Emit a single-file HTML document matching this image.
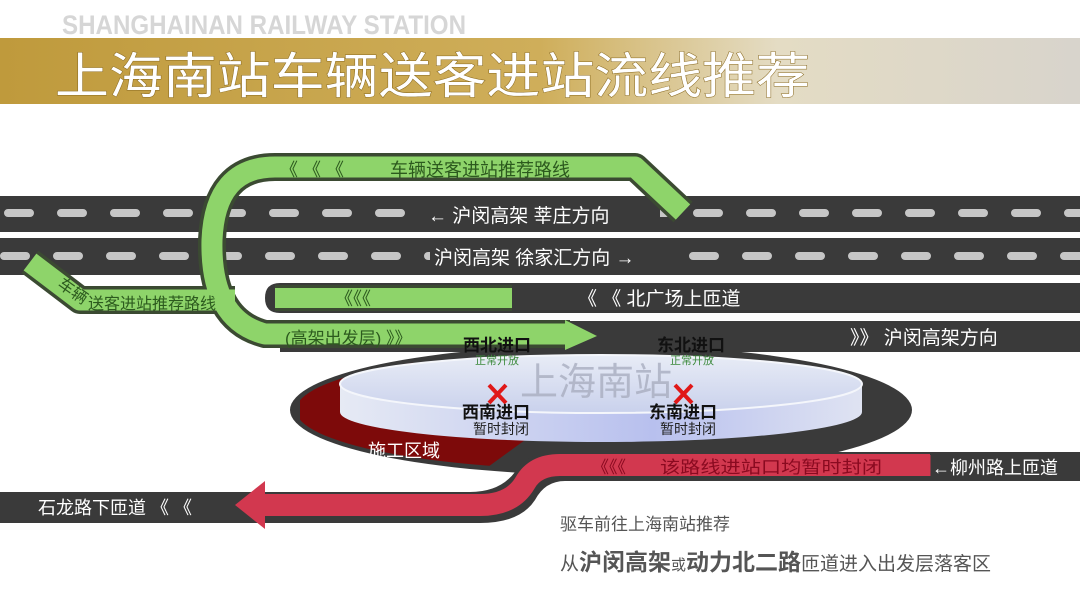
<!DOCTYPE html>
<html><head><meta charset="utf-8"><style>
html,body{margin:0;padding:0;background:#fff;width:1080px;height:608px;overflow:hidden}
svg{display:block;font-family:"Liberation Sans","Noto Sans CJK SC",sans-serif}
</style></head><body>
<svg width="1080" height="608" viewBox="0 0 1080 608" xmlns="http://www.w3.org/2000/svg">
<defs>
<linearGradient id="ban" x1="0" x2="1" y1="0" y2="0">
<stop offset="0" stop-color="#bf9a3c"/><stop offset="0.5" stop-color="#cfae5a"/><stop offset="0.72" stop-color="#e4dcc4"/><stop offset="1" stop-color="#d8d4cc"/></linearGradient>
<linearGradient id="disc" x1="0" x2="1"><stop offset="0" stop-color="#e6eaf4"/><stop offset="0.6" stop-color="#b8c0ee"/><stop offset="1" stop-color="#dfe3f2"/></linearGradient>
<linearGradient id="top" x1="0" x2="0" y1="0" y2="1"><stop offset="0" stop-color="#e8ecf6"/><stop offset="1" stop-color="#c9d1ec"/></linearGradient>
<clipPath id="ring"><ellipse cx="601" cy="410" rx="305" ry="60"/></clipPath>
</defs>
<!-- header -->
<text x="62" y="34" font-size="27" font-weight="bold" fill="#d6d6d6" textLength="404" lengthAdjust="spacingAndGlyphs">SHANGHAINAN RAILWAY STATION</text>
<rect x="0" y="38" width="1080" height="66" fill="url(#ban)"/>
<text x="55" y="93" font-size="49" fill="#fff" textLength="755" lengthAdjust="spacingAndGlyphs" style="paint-order:stroke" stroke="#8a6a20" stroke-width="1">上海南站车辆送客进站流线推荐</text>

<!-- roads -->
<rect x="0" y="196" width="1080" height="36" fill="#3a3a3a"/>
<rect x="0" y="238" width="1080" height="37" fill="#3a3a3a"/>
<line x1="0" y1="213" x2="1080" y2="213" stroke="#c6c6c6" stroke-width="8" stroke-linecap="round" stroke-dasharray="22 31" stroke-dashoffset="-8"/>
<line x1="0" y1="256" x2="1080" y2="256" stroke="#c6c6c6" stroke-width="8" stroke-linecap="round" stroke-dasharray="22 31" stroke-dashoffset="-4"/>
<rect x="420" y="200" width="240" height="28" fill="#3a3a3a"/>
<rect x="430" y="242" width="245" height="28" fill="#3a3a3a"/>
<text x="428" y="222" font-size="19" fill="#fff">← 沪闵高架 莘庄方向</text>
<text x="434" y="264" font-size="19" fill="#fff">沪闵高架 徐家汇方向 →</text>
<path d="M280,283 H1080 V313 H280 Q265,313 265,298 Q265,283 280,283Z" fill="#3a3a3a"/>
<rect x="280" y="321" width="800" height="31" fill="#3a3a3a"/>
<text x="578" y="305" font-size="19" fill="#fff">《 《 北广场上匝道</text>
<text x="850" y="344" font-size="19" fill="#fff">》》 沪闵高架方向</text>

<!-- station ring -->
<ellipse cx="601" cy="410" rx="311" ry="65" fill="#3a3a3a"/>
<polygon points="300,340 380,340 525,440 470,480 300,480" fill="#7d0a0a" clip-path="url(#ring)"/>
<ellipse cx="601" cy="412" rx="261" ry="30" fill="url(#disc)"/>
<rect x="340" y="384" width="522" height="28" fill="url(#disc)"/>
<ellipse cx="601" cy="384" rx="261" ry="29" fill="url(#top)" stroke="#f4f6fb" stroke-width="2"/>
<text x="368" y="457" font-size="18" fill="#fff">施工区域</text>
<text x="520" y="395" font-size="38" fill="#a9aec0" opacity="0.8">上海南站</text>
<path d="M489,385 L506,403 M506,385 L489,403" stroke="#e01818" stroke-width="4"/>
<path d="M675,385 L692,403 M692,385 L675,403" stroke="#e01818" stroke-width="4"/>
<text x="462" y="418" font-size="17" font-weight="bold" fill="#111">西南进口</text>
<text x="473" y="434" font-size="14" fill="#222">暂时封闭</text>
<text x="649" y="418" font-size="17" font-weight="bold" fill="#111">东南进口</text>
<text x="660" y="434" font-size="14" fill="#222">暂时封闭</text>

<!-- bottom roads -->
<path d="M0,492 H470 Q500,492 515,472 Q525,452 560,452 H1080 V481 H565 Q545,481 535,500 Q520,523 480,523 H0Z" fill="#3a3a3a"/>
<path d="M930,465 H560 Q535,465 525,483 Q512,505 480,505 H265" fill="none" stroke="#d2384f" stroke-width="22"/>
<path d="M930,455 V476" stroke="#d2384f" stroke-width="1"/>
<path d="M235,505 L265,481 V529Z" fill="#d2384f"/>
<text x="592" y="473" font-size="17" fill="#8a0a20">《《《</text>
<text x="660" y="473" font-size="17" fill="#8a0a20" textLength="222" lengthAdjust="spacingAndGlyphs">该路线进站口均暂时封闭</text>
<text x="932" y="474" font-size="18" fill="#fff">←柳州路上匝道</text>
<text x="38" y="514" font-size="18" fill="#fff">石龙路下匝道 《 《</text>

<!-- green routes -->
<g fill="none" stroke-linejoin="round">
<path d="M683,212 L635,167 H275 Q215,167 212,240 Q210,320 265,334 H570" stroke="#3b4a32" stroke-width="28"/>
<path d="M30,262 L80,300 H235" stroke="#3b4a32" stroke-width="28"/>
<path d="M275,298 H512" stroke="#3b4a32" stroke-width="26"/>
<path d="M683,212 L635,167 H275 Q215,167 212,240 Q210,320 265,334 H570" stroke="#8ed46a" stroke-width="21"/>
<path d="M30,262 L80,300 H235" stroke="#8ed46a" stroke-width="21"/>
<path d="M275,298 H512" stroke="#8ed46a" stroke-width="20"/>
</g>
<path d="M565,320 L597,336 L565,350Z" fill="#8ed46a"/>
<text x="280" y="176" font-size="18" fill="#2c5a1e">《 《 《</text>
<text x="390" y="176" font-size="18" fill="#2c5a1e">车辆送客进站推荐路线</text>
<text x="335" y="305" font-size="18" fill="#2c5a1e">《《《</text>
<text x="58" y="288" font-size="16" fill="#2c5a1e" transform="rotate(35 60 285)">车辆</text>
<text x="88" y="309" font-size="16" fill="#2c5a1e">送客进站推荐路线</text>
<text x="285" y="344" font-size="17" fill="#2c5a1e">(高架出发层) 》》</text>

<text x="463" y="351" font-size="17" font-weight="bold" fill="#111">西北进口</text>
<text x="475" y="364" font-size="11" fill="#3c8a3c">正常开放</text>
<text x="657" y="351" font-size="17" font-weight="bold" fill="#111">东北进口</text>
<text x="670" y="364" font-size="11" fill="#3c8a3c">正常开放</text>

<!-- footer text -->
<text x="560" y="530" font-size="17" fill="#555">驱车前往上海南站推荐</text>
<text x="560" y="570" font-size="19" fill="#555">从<tspan font-size="23" font-weight="bold">沪闵高架</tspan><tspan font-size="15">或</tspan><tspan font-size="23" font-weight="bold">动力北二路</tspan>匝道进入出发层落客区</text>
</svg>
</body></html>
